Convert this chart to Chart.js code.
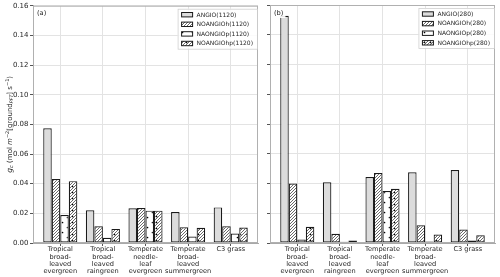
<!DOCTYPE html>
<html>
<head>
<meta charset="utf-8">
<script src="https://cdn.jsdelivr.net/npm/chart.js@4"></script>
<style>
  html, body { margin: 0; padding: 0; background: #fff; }
  #wrap { position: relative; width: 500px; height: 277px; }
  canvas { position: absolute; top: 0; }
  #chartA { left: 0; }
  #chartB { left: 262px; }
</style>
</head>
<body>
<div id="wrap">
  <canvas id="chartA" width="262" height="277"></canvas>
  <canvas id="chartB" width="238" height="277"></canvas>
</div>
<script>
const PFT_LABELS = [
  ['Tropical', 'broad-', 'leaved', 'evergreen'],
  ['Tropical', 'broad-', 'leaved', 'raingreen'],
  ['Temperate', 'needle-', 'leaf', 'evergreen'],
  ['Temperate', 'broad-', 'leaved', 'summergreen'],
  ['C3 grass']
]
const Y_TICKS = [0, 0.02, 0.04, 0.06, 0.08, 0.10, 0.12, 0.14, 0.16]

// panel (a), CO2 = 1120
const angio1120     = [0.0773, 0.0220, 0.0234, 0.0209, 0.0240]
const noangioh1120  = [0.0431, 0.0113, 0.0236, 0.0106, 0.0113]
const naongiop1120  = [0.0189, 0.0035, 0.0218, 0.0044, 0.0064]
const noangiohp1120 = [0.0417, 0.0095, 0.0218, 0.0102, 0.0104]

// panel (b), CO2 = 280
const angio280     = [0.1527, 0.0408, 0.0444, 0.0475, 0.0491]
const noangioh280  = [0.0400, 0.0062, 0.0471, 0.0119, 0.0091]
const naongiop280  = [0.0023, 0.0008, 0.0350, 0.0010, 0.0017]
const noangiohp280 = [0.0109, 0.0017, 0.0364, 0.0057, 0.0052]

const FONT = '"DejaVu Sans"'
Chart.defaults.font.family = FONT
Chart.defaults.color = '#262626'

function hatch(kind) {
  const n = kind === 'h' ? 3 : kind === 'p' ? 10 : 6
  const c = document.createElement('canvas')
  c.width = c.height = n
  const g = c.getContext('2d')
  g.fillStyle = '#fff'
  g.fillRect(0, 0, n, n)
  g.fillStyle = '#6a6a6a'
  if (kind !== 'p') {
    for (let x = 0; x < n; x++)
      for (let y = 0; y < n; y++)
        if ((x + y) % 3 === 2) g.fillRect(x, y, 1, 1)
  }
  g.fillStyle = '#000'
  const dot = (x, y) => { g.beginPath(); g.arc(x, y, 0.85, 0, Math.PI * 2); g.fill() }
  if (kind === 'p') { dot(2.5, 2.5); dot(7.5, 7.5) }
  if (kind === 'hp') { dot(0.5, 0.5) }
  return g.createPattern(c, 'repeat')
}

const FILLS = ['#dcdcdc', hatch('h'), hatch('p'), hatch('hp')]

function toPoints(vals) {
  return vals.map((v, i) => ({ x: i, y: v }))
}

function makeSets(co2, series) {
  const names = ['ANGIO', 'NOANGIOh', 'NAONGIOp', 'NOANGIOhp']
  return series.map((vals, k) => ({
    label: `${names[k]}(${co2})`,
    data: toPoints(vals),
    backgroundColor: FILLS[k],
    borderColor: '#1a1a1a',
    borderWidth: 1.2,
    borderSkipped: false,
    categoryPercentage: 0.8,
    barPercentage: 1.0
  }))
}

const boxLegend = {
  id: 'boxLegend',
  afterDraw(chart) {
    const { ctx, chartArea: a } = chart
    const sets = chart.data.datasets
    ctx.save()
    ctx.font = `6px ${FONT}`
    const textW = Math.max(...sets.map(d => ctx.measureText(d.label).width))
    const rowH = 9.6
    const w = 4 + 11 + 4 + textW + 4
    const h = 40
    const x = a.right - w - 1
    const y = a.top + 3
    ctx.fillStyle = 'rgba(255,255,255,0.85)'
    ctx.fillRect(x, y, w, h)
    ctx.strokeStyle = '#d0d0d0'
    ctx.lineWidth = 0.8
    ctx.strokeRect(x + 0.5, y + 0.5, w, h)
    sets.forEach((d, i) => {
      const cy = y + 6 + rowH * i
      ctx.fillStyle = d.backgroundColor
      ctx.fillRect(x + 4, cy - 2.2, 11, 4.4)
      ctx.strokeStyle = '#1a1a1a'
      ctx.lineWidth = 1
      ctx.strokeRect(x + 4, cy - 2.2, 11, 4.4)
      ctx.fillStyle = '#262626'
      ctx.textBaseline = 'middle'
      ctx.fillText(d.label, x + 19, cy + 0.3)
    })
    ctx.restore()
  }
}

const frame = {
  id: 'frame',
  afterDraw(chart, args, opts) {
    const { ctx, chartArea: a } = chart
    ctx.save()
    ctx.strokeStyle = '#b0b0b0'
    ctx.lineWidth = 1
    ctx.strokeRect(a.left + 0.5, a.top + 0.5, a.right - a.left - 1, a.bottom - a.top - 1)
    // panel tag
    ctx.font = `6.7px ${FONT}`
    const tw = ctx.measureText(opts.tag).width
    ctx.fillStyle = 'rgba(255,255,255,0.9)'
    ctx.fillRect(a.left + 2, a.top + 3, tw + 4, 10)
    ctx.fillStyle = '#262626'
    ctx.textBaseline = 'middle'
    ctx.fillText(opts.tag, a.left + 4, a.top + 8)
    ctx.restore()
  }
}

const yTitle = {
  id: 'yTitle',
  afterDraw(chart) {
    const { ctx, chartArea: a } = chart
    const parts = [
      ['g', 'italic 7.5px', 0],
      ['c', 'italic 5.2px', 1.6],
      [' (mol ', '7px', 0],
      ['m', 'italic 7px', 0],
      ['\u22122', '5px', -2.8],
      ['[ground', '7px', 0],
      ['PFT', 'italic 4.8px', 1.6],
      ['] s', '7px', 0],
      ['\u22121', '5px', -2.8],
      [')', '7px', 0]
    ]
    ctx.save()
    let total = 0
    const widths = parts.map(([t, f]) => {
      ctx.font = `${f} ${FONT}`
      const w = ctx.measureText(t).width
      total += w
      return w
    })
    ctx.translate(11.5, (a.top + a.bottom) / 2)
    ctx.rotate(-Math.PI / 2)
    ctx.fillStyle = '#262626'
    ctx.textBaseline = 'alphabetic'
    let x = -total / 2
    parts.forEach(([t, f, dy], i) => {
      ctx.font = `${f} ${FONT}`
      ctx.fillText(t, x, dy)
      x += widths[i]
    })
    ctx.restore()
  }
}

function makeOptions(tag, yWidth, showY, padRight) {
  return {
    responsive: false,
    devicePixelRatio: 1,
    animation: false,
    layout: { padding: { left: 0, right: padRight, top: 5, bottom: 0 } },
    plugins: {
      legend: { display: false },
      tooltip: { enabled: false },
      frame: { tag }
    },
    scales: {
      x: {
        type: 'linear',
        min: -0.64,
        max: 4.64,
        offset: false,
        afterBuildTicks: s => { s.ticks = PFT_LABELS.map((_, i) => ({ value: i })) },
        afterFit: s => { s.height = 34 },
        grid: { color: '#e3e3e3', offset: false, tickLength: 3, tickColor: '#555' },
        border: { display: true, color: '#a8a8a8', width: 1 },
        ticks: {
          autoSkip: false,
          maxRotation: 0,
          minRotation: 0,
          padding: 0,
          font: { size: 6.6, lineHeight: 1.1 },
          callback: v => PFT_LABELS[v]
        }
      },
      y: {
        min: 0,
        max: 0.16,
        afterBuildTicks: s => { s.ticks = Y_TICKS.map(v => ({ value: v })) },
        afterFit: s => { s.width = yWidth },
        grid: { color: '#e3e3e3', tickLength: 3, tickColor: '#555' },
        border: { display: true, color: '#a8a8a8', width: 1 },
        ticks: {
          display: showY,
          padding: 1.5,
          font: { size: 7 },
          callback: v => v.toFixed(2)
        }
      }
    }
  }
}

new Chart(document.getElementById('chartA'), {
  type: 'bar',
  data: { datasets: makeSets(1120, [angio1120, noangioh1120, naongiop1120, noangiohp1120]) },
  options: makeOptions('(a)', 33, true, 4),
  plugins: [frame, boxLegend, yTitle]
})

new Chart(document.getElementById('chartB'), {
  type: 'bar',
  data: { datasets: makeSets(280, [angio280, noangioh280, naongiop280, noangiohp280]) },
  options: makeOptions('(b)', 8, false, 5),
  plugins: [frame, boxLegend]
})
</script>
</body>
</html>
